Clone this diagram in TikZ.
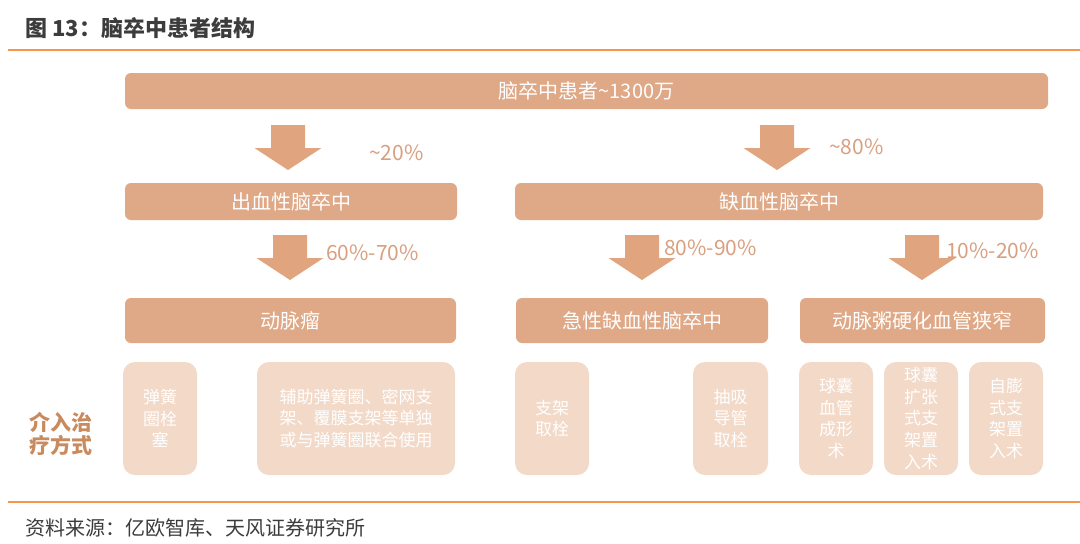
\documentclass[tikz,border=0pt]{standalone}
\usepackage{fontspec}
\setmainfont{Noto Sans CJK SC}
\definecolor{hdr}{HTML}{DFA886}
\definecolor{arr}{HTML}{E0A47E}
\definecolor{lite}{HTML}{F2D9C8}
\definecolor{pct}{HTML}{D9A080}
\definecolor{rule}{HTML}{F5964A}
\definecolor{ttl}{HTML}{3C3C3C}
\definecolor{lab}{HTML}{C98A5E}
\tikzset{
  x=1pt, y=-1pt,
  hdrbox/.style={fill=hdr, rounded corners=6pt, text=white, font=\fontsize{20}{24}\selectfont},
  litebox/.style={fill=lite, rounded corners=12pt, text=white, align=center, font=\fontsize{17}{21.7}\selectfont},
  pctlab/.style={anchor=west, text=pct, font=\fontsize{21}{24}\selectfont, inner sep=0pt},
  downarr/.pic={\fill[arr] (-17,0) -- (17,0) -- (17,23) -- (33.5,23) -- (0,45) -- (-33.5,23) -- (-17,23) -- cycle;}
}
\begin{document}
\begin{tikzpicture}
\useasboundingbox (0,0) rectangle (1080,544);
\fill[white] (0,0) rectangle (1080,544);
% title and rules
\node[anchor=west, text=ttl, inner sep=0pt, font=\fontsize{22}{26}\selectfont\bfseries] (title) at (25,28) {图 13：脑卒中患者结构};
\coordinate (r1a) at (8,50); \coordinate (r1b) at (1080,50);
\draw[rule, line width=1.5pt] (r1a) -- (r1b);
\coordinate (r2a) at (8,502); \coordinate (r2b) at (1080,502);
\draw[rule, line width=1.5pt] (r2a) -- (r2b);
\node[anchor=west, text=ttl, inner sep=0pt, font=\fontsize{20}{24}\selectfont] (src) at (25,528) {资料来源：亿欧智库、天风证券研究所};

% header bars
\path[hdrbox] (125,73) rectangle (1048,109);
\node[text=white, font=\fontsize{20}{24}\selectfont] (top) at (586.5,91) {脑卒中患者\textasciitilde1300万};
\path[hdrbox] (125,183) rectangle (457,220);
\node[text=white, font=\fontsize{20}{24}\selectfont] (hem) at (291,201.5) {出血性脑卒中};
\path[hdrbox] (515,183) rectangle (1043,220);
\node[text=white, font=\fontsize{20}{24}\selectfont] (isc) at (779,201.5) {缺血性脑卒中};
\path[hdrbox] (125,298) rectangle (456,343);
\node[text=white, font=\fontsize{20}{24}\selectfont] (ane) at (290.5,320.5) {动脉瘤};
\path[hdrbox] (516,298) rectangle (768,343);
\node[text=white, font=\fontsize{20}{24}\selectfont] (acu) at (642,320.5) {急性缺血性脑卒中};
\path[hdrbox] (800,298) rectangle (1045,343);
\node[text=white, font=\fontsize{20}{24}\selectfont] (ath) at (922.5,320.5) {动脉粥硬化血管狭窄};

% arrows
\pic at (288,125) {downarr};
\pic at (290,235) {downarr};
\pic at (777,125) {downarr};
\pic at (642,235) {downarr};
\pic at (922,235) {downarr};
\node[pctlab] (p1) at (369,153) {\textasciitilde20\%};
\node[pctlab] (p2) at (829,147) {\textasciitilde80\%};
\node[pctlab] (p3) at (326,253) {60\%-70\%};
\node[pctlab] (p4) at (664,248) {80\%-90\%};
\node[pctlab] (p5) at (946,251) {10\%-20\%};

% bottom boxes
\path[litebox] (123,362) rectangle (197,475);
\node[text=white, align=center, font=\fontsize{17}{21.7}\selectfont] (b1) at (160,418.5) {弹簧\\圈栓\\塞};
\path[litebox] (257,362) rectangle (455,475);
\node[text=white, align=center, font=\fontsize{17}{21.7}\selectfont] (b2) at (356,418.5) {辅助弹簧圈、密网支\\架、覆膜支架等单独\\或与弹簧圈联合使用};
\path[litebox] (515,362) rectangle (589,475);
\node[text=white, align=center, font=\fontsize{17}{21.7}\selectfont] (b3) at (552,418.5) {支架\\取栓};
\path[litebox] (693,362) rectangle (768,475);
\node[text=white, align=center, font=\fontsize{17}{21.7}\selectfont] (b4) at (730.5,418.5) {抽吸\\导管\\取栓};
\path[litebox] (799,362) rectangle (873,475);
\node[text=white, align=center, font=\fontsize{17}{21.7}\selectfont] (b5) at (836,418.5) {球囊\\血管\\成形\\术};
\path[litebox] (884,362) rectangle (958,475);
\node[text=white, align=center, font=\fontsize{17}{21.7}\selectfont] (b6) at (921,418.5) {球囊\\扩张\\式支\\架置\\入术};
\path[litebox] (969,362) rectangle (1043,475);
\node[text=white, align=center, font=\fontsize{17}{21.7}\selectfont] (b7) at (1006,418.5) {自膨\\式支\\架置\\入术};

% side label
\node[text=lab, align=left, font=\fontsize{21}{22.5}\selectfont\bfseries] (side) at (61,434) {介入治\\疗方式};
\end{tikzpicture}
\end{document}
